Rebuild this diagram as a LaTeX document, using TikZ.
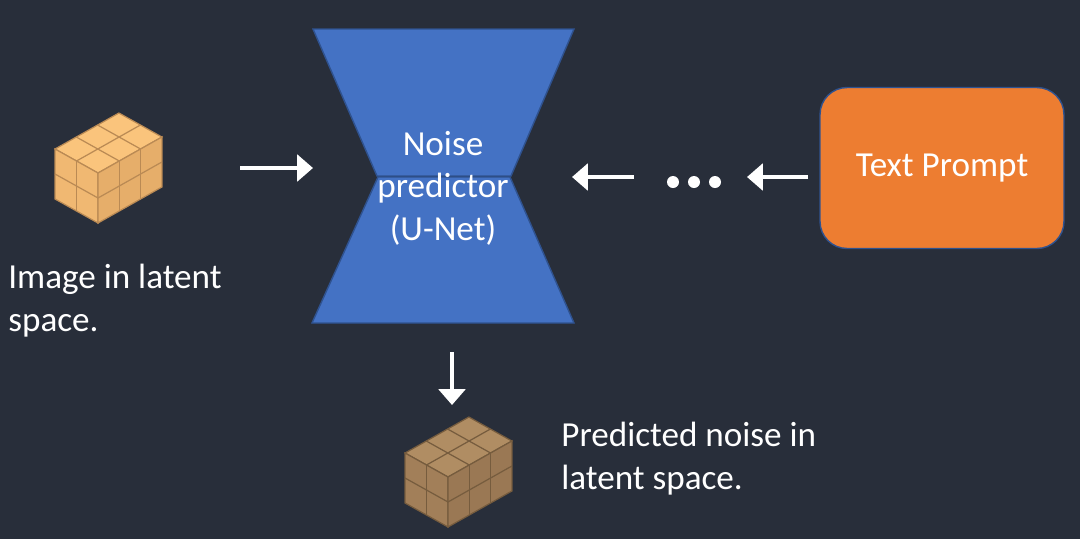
\documentclass[tikz,border=0pt]{standalone}
\usepackage{fontspec}
\setmainfont{Carlito}
\usepackage{xcolor}
\usepackage{tikz}
\usetikzlibrary{arrows.meta}

\definecolor{bgdark}{RGB}{40,46,58}
\definecolor{unetblue}{RGB}{68,114,196}
\definecolor{unetedge}{RGB}{47,82,143}
\definecolor{promptorange}{RGB}{237,125,49}
\definecolor{imgtop}{RGB}{250,196,124}
\definecolor{imgleft}{RGB}{240,184,114}
\definecolor{imgright}{RGB}{230,174,106}
\definecolor{imgline}{RGB}{186,138,84}
\definecolor{noisetop}{RGB}{176,141,99}
\definecolor{noiseleft}{RGB}{162,127,89}
\definecolor{noiseright}{RGB}{154,120,84}
\definecolor{noiseline}{RGB}{118,92,62}

% latent cube: front-top corner, top, left, right, line colours
\newcommand{\latentcube}[5]{%
  \begin{scope}[shift={#1}, x={(0.426cm,0.24cm)}, y={(-0.43cm,0.24cm)}, z={(0cm,-0.5cm)}, draw=#5, line width=0.7pt]
    \filldraw[fill=#2] (0,0,0) -- (3,0,0) -- (3,2,0) -- (0,2,0) -- cycle;
    \filldraw[fill=#3] (0,0,0) -- (0,2,0) -- (0,2,2) -- (0,0,2) -- cycle;
    \filldraw[fill=#4] (0,0,0) -- (3,0,0) -- (3,0,2) -- (0,0,2) -- cycle;
    \draw (0,1,0) -- (3,1,0);
    \foreach \i in {1,2} \draw (\i,0,0) -- (\i,2,0);
    \draw (0,1,0) -- (0,1,2);
    \draw (0,0,1) -- (0,2,1);
    \foreach \i in {1,2} \draw (\i,0,0) -- (\i,0,2);
    \draw (0,0,1) -- (3,0,1);
  \end{scope}}

\begin{document}
\begin{tikzpicture}[x=0.02cm, y=-0.02cm,
    label/.style={text=white, font=\fontsize{20}{24}\selectfont, inner sep=0pt},
    flow/.style={draw=white, line width=2.8pt, -{Triangle[length=9pt,width=15pt]}}]
    % background
    \fill[bgdark] (0,0) rectangle (1080,539);
    \useasboundingbox (0,0) rectangle (1080,539);

    % noise predictor (hourglass)
    \filldraw[fill=unetblue, draw=unetedge, line width=0.8pt] (313,29) -- (574,29) -- (511,176) -- (377,176) -- cycle;
    \filldraw[fill=unetblue, draw=unetedge, line width=0.8pt] (378,177) -- (510,177) -- (574,323) -- (312,323) -- cycle;
    \node[label, align=center, anchor=base] (unet) at (443,240) {Noise\\predictor\\(U-Net)};

    % latent cubes
    \latentcube{(98,173)}{imgtop}{imgleft}{imgright}{imgline}
    \latentcube{(448,477)}{noisetop}{noiseleft}{noiseright}{noiseline}
    \node[label, align=left, anchor=base west] (imglabel) at (8,331) {Image in latent\\space.};
    \node[label, align=left, anchor=base west] (noiselabel) at (561,489) {Predicted noise in\\latent space.};

    % text prompt
    \node[label, fill=promptorange, draw=unetedge, line width=0.8pt, rounded corners=0.54cm,
          minimum width=4.88cm, minimum height=3.22cm] (prompt) at (942,168) {Text Prompt};

    % arrows
    \coordinate (img-out) at (240,168);
    \coordinate (unet-in) at (313,168);
    \coordinate (dots-out) at (634,177);
    \coordinate (unet-txt) at (572,177);
    \coordinate (prompt-out) at (808,177);
    \coordinate (dots-in) at (747,177);
    \coordinate (unet-out) at (452,352);
    \coordinate (noise-in) at (452,405);
    \draw[flow] (img-out) -- (unet-in);
    \draw[flow] (dots-out) -- (unet-txt);
    \draw[flow] (prompt-out) -- (dots-in);
    \draw[flow] (unet-out) -- (noise-in);
    \foreach \x in {673,694,715}
        \fill[white] (\x,182) circle (0.12cm);
\end{tikzpicture}
\end{document}
